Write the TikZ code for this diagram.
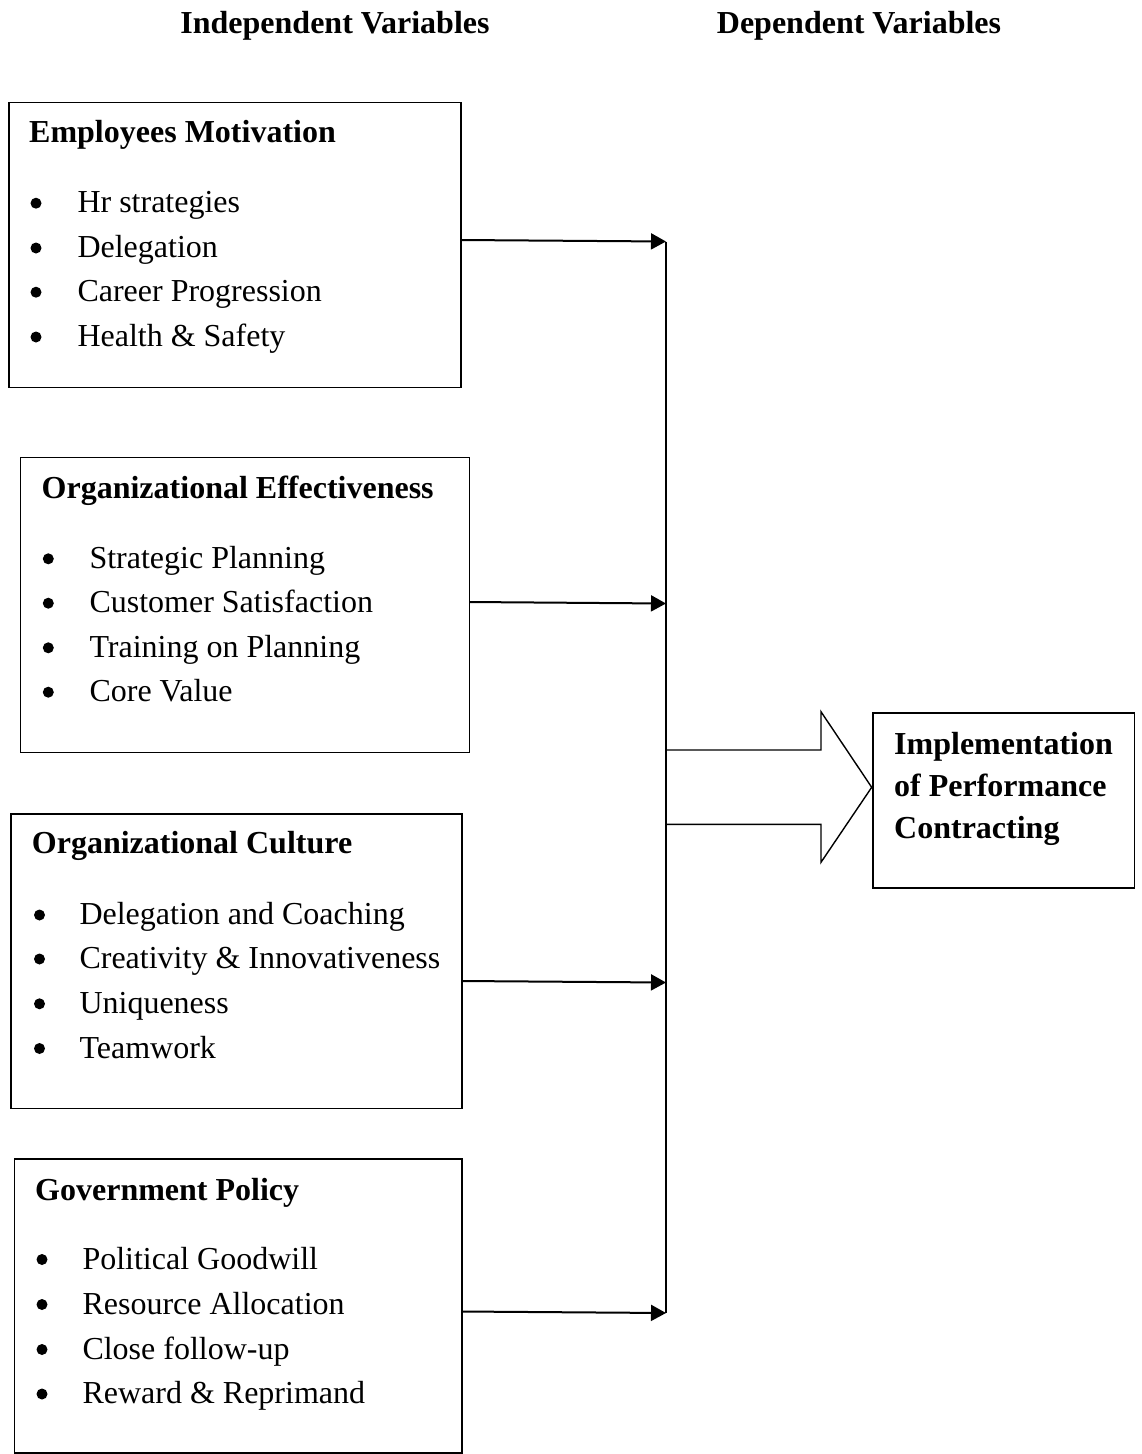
\documentclass[tikz,border=0pt]{standalone}
\usepackage{fontspec}
\setmainfont{Liberation Serif}
\usetikzlibrary{arrows.meta}
\begin{document}
\begin{tikzpicture}[x=1pt,y=-1pt,
  txt/.style={inner sep=0pt,anchor=base west,font=\fontsize{32}{44}\selectfont},
  ttl/.style={txt,font=\fontsize{32}{44}\selectfont\bfseries},
  bul/.style={circle,fill,inner sep=0pt,minimum size=11pt,yshift=9.5pt},
  hdr/.style={inner sep=0pt,anchor=base,font=\fontsize{32}{44}\selectfont\bfseries},
  frame/.style={draw,line width=1.8pt},
  feed/.style={line width=2pt,-{Triangle[length=15pt,width=16pt]}},
  bus/.style={line width=2.2pt},
  bigarrow/.style={line width=1.4pt,line join=miter}]
\useasboundingbox (0,0) rectangle (1141,1454);

% headers
\node[hdr] (h1) at (335,33) {Independent Variables};
\node[hdr] (h2) at (859,33) {Dependent Variables};

% box 1
\draw[frame] (9,102.5) rectangle (461,387.5);
\node[ttl] (t1) at (29,142.5) {Employees Motivation};
\foreach \y/\s [count=\i] in {212.7/Hr strategies,257.5/Delegation,301.7/Career Progression,346.5/Health \& Safety}{
  \node[bul] (b1\i) at (36,\y) {};
  \node[txt] (i1\i) at (77.3,\y) {\s};
}
% box 2
\draw[frame] (20.5,457.5) rectangle (469.5,752.5);
\node[ttl] (t2) at (41.5,498.3) {Organizational Effectiveness};
\foreach \y/\s [count=\i] in {568.3/Strategic Planning,612.7/Customer Satisfaction,657.3/Training on Planning,701.7/Core Value}{
  \node[bul] (b2\i) at (48.3,\y) {};
  \node[txt] (i2\i) at (89.3,\y) {\s};
}
% box 3
\draw[frame] (11,814) rectangle (462.3,1108.5);
\node[ttl] (t3) at (31.7,853.3) {Organizational Culture};
\foreach \y/\s [count=\i] in {924.5/Delegation and Coaching,968.5/Creativity \& Innovativeness,1013.3/Uniqueness,1058/Teamwork}{
  \node[bul] (b3\i) at (39.5,\y) {};
  \node[txt] (i3\i) at (79.3,\y) {\s};
}
% box 4
\draw[frame] (14.5,1159.3) rectangle (462.3,1453);
\node[ttl] (t4) at (35,1200) {Government Policy};
\foreach \y/\s [count=\i] in {1269/Political Goodwill,1314/Resource Allocation,1359/Close follow-up,1403.5/Reward \& Reprimand}{
  \node[bul] (b4\i) at (42,\y) {};
  \node[txt] (i4\i) at (82.3,\y) {\s};
}

% connector coordinates
\coordinate (s1) at (461,240);
\coordinate (e1) at (666,241.5);
\coordinate (s2) at (469.5,602);
\coordinate (e2) at (666,603.5);
\coordinate (s3) at (462.3,981);
\coordinate (e3) at (666,982.5);
\coordinate (s4) at (462.3,1311.5);
\coordinate (e4) at (666,1313);

\draw[bus] (e1) -- (e4);
\draw[feed] (s1) -- (e1);
\draw[feed] (s2) -- (e2);
\draw[feed] (s3) -- (e3);
\draw[feed] (s4) -- (e4);

% big arrow
\coordinate (ba1) at (666,750);
\coordinate (ba2) at (666,824.3);
\draw[bigarrow] (ba1) -- (821,750) -- (821,711.7) -- (871.7,787.3) -- (821,862.3) -- (821,824.3) -- (ba2);

% output box
\draw[frame] (873,713.3) rectangle (1134.5,888.3);
\node[ttl] (o1) at (894,754) {Implementation};
\node[ttl] (o2) at (894,796.5) {of Performance};
\node[ttl] (o3) at (894,838) {Contracting};
\end{tikzpicture}
\end{document}
